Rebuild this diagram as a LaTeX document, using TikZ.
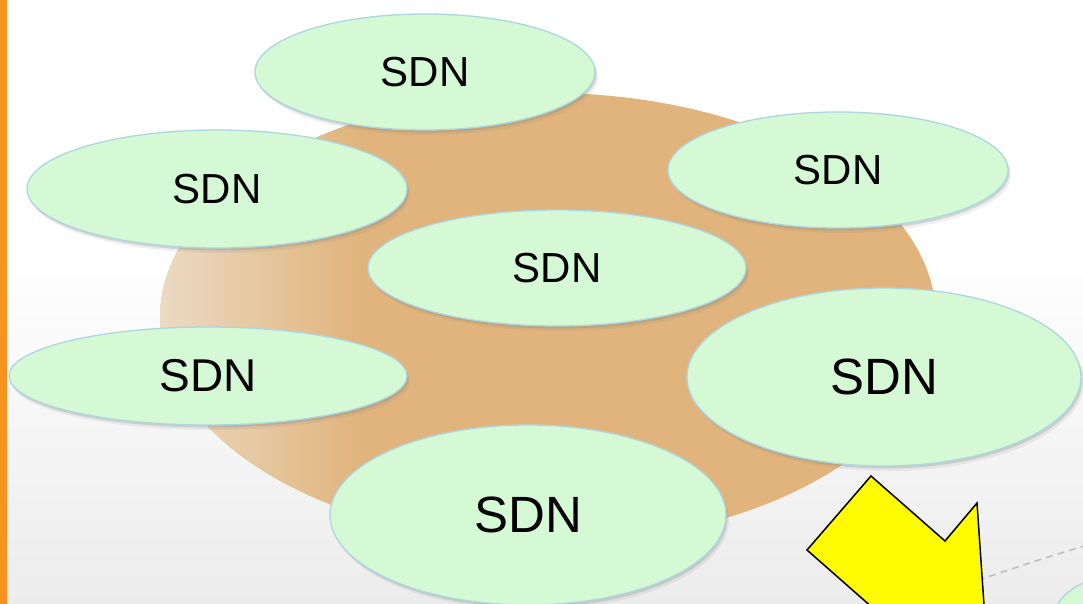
\documentclass[tikz,border=0pt]{standalone}
\usepackage{fontspec}
\setmainfont{Liberation Sans}
\usetikzlibrary{shapes.geometric,shadows}

\definecolor{barorange}{RGB}{247,148,30}
\definecolor{cloudtan}{RGB}{224,180,124}
\definecolor{cloudpale}{RGB}{236,218,196}
\definecolor{sdnfill}{RGB}{213,249,212}
\definecolor{sdnedge}{RGB}{172,214,226}
\definecolor{haze}{RGB}{236,236,236}
\definecolor{pointer}{RGB}{255,251,0}

\tikzset{
  sdn/.style={ellipse, draw=sdnedge, line width=1.3pt, fill=sdnfill, inner sep=0pt,
    drop shadow={opacity=0.12, shadow xshift=3pt, shadow yshift=-5pt},
    drop shadow={opacity=0.25, shadow xshift=1.5pt, shadow yshift=-2.5pt},
    font=\fontsize{42}{48}\selectfont},
  sdnmid/.style={sdn, font=\fontsize{46}{54}\selectfont},
  sdnbig/.style={sdn, font=\fontsize{51}{60}\selectfont},
  link/.style={draw=gray!50, line width=1.6pt, dash pattern=on 7pt off 5pt},
  pointerarrow/.style={draw=black, fill=pointer, line width=1.5pt, line join=miter},
}

\begin{document}
\begin{tikzpicture}[x=1pt,y=-1pt]
  \path[clip] (0,0) rectangle (1083,604);
  \fill[white] (0,0) rectangle (1083,604);

  % soft grey haze in the lower half of the slide
  \shade[top color=white, bottom color=haze] (7,250) rectangle (1083,604);

  % orange side bar
  \fill[barorange] (0,0) rectangle (7,604);

  % tan cloud behind the domains, fading out towards its left edge
  \begin{scope}
    \clip (548,318) ellipse [x radius=388, y radius=225];
    \fill[cloudtan] (150,80) rectangle (950,560);
    \shade[left color=cloudpale, right color=cloudtan] (158,80) rectangle (360,560);
  \end{scope}

  % SDN domains
  \node[sdn, minimum width=340pt, minimum height=116pt] (top) at (425,72) {SDN};
  \node[sdn, minimum width=380pt, minimum height=118pt] (upleft) at (217,189) {SDN};
  \node[sdn, minimum width=340pt, minimum height=116pt] (upright) at (838,170) {SDN};
  \node[sdn, minimum width=378pt, minimum height=116pt] (centre) at (557,268) {SDN};
  \node[sdnmid, minimum width=398pt, minimum height=98pt] (lowleft) at (208,376) {SDN};
  \node[sdnbig, minimum width=394pt, minimum height=178pt] (lowright) at (884,377) {SDN};
  \node[sdnbig, minimum width=396pt, minimum height=180pt] (bottom) at (528,515) {SDN};

  % domain peeking in at the lower right corner
  \node[sdn, minimum width=190pt, minimum height=90pt] (corner) at (1150,615) {};

  % dashed link running off to the right
  \coordinate (linkstart) at (955,588);
  \coordinate (linkend) at (1095,543);
  \draw[link] (linkstart) .. controls (1000,573) and (1045,557) .. (linkend);

  % big yellow arrow pointing down and to the right
  \draw[pointerarrow] (807,550) -- (880.3,614.5) -- (846.7,651) -- (986.6,642.8)
    -- (977,503) -- (945,541) -- (871,476) -- cycle;
\end{tikzpicture}
\end{document}
